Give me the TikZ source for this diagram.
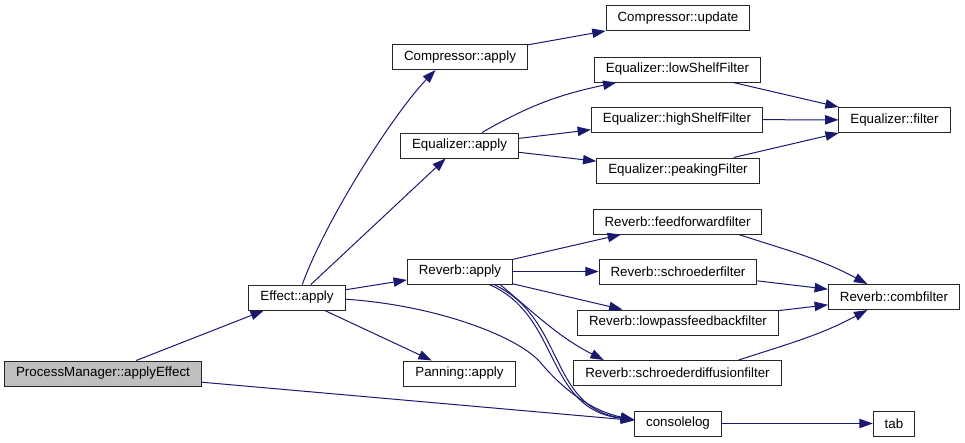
\documentclass[tikz,border=0pt]{standalone}
\usepackage{fontspec}
\setmainfont{Liberation Sans}
\usetikzlibrary{arrows.meta}
\definecolor{edgeblue}{HTML}{191970}
\definecolor{startgray}{HTML}{BFBFBF}

\begin{document}
\begin{tikzpicture}[x=0.75pt,y=0.75pt,
        fn/.style={draw=black!85,line width=0.75pt,fill=white,inner xsep=8.6pt,inner ysep=0pt,
            minimum height=18.75pt,font=\fontsize{10}{12}\selectfont},
        call/.style={draw=edgeblue,line width=0.75pt,-{Triangle[length=10pt,width=7pt]}}]
    \useasboundingbox (0,0) rectangle (965,-443);
    % functions
    \node[fn,fill=startgray] (pm) at (103,-373.5) {ProcessManager::applyEffect};
    \node[fn] (effect) at (297,-297.5) {Effect::apply};
    \node[fn] (compApply) at (460,-57) {Compressor::apply};
    \node[fn] (compUpdate) at (678,-18) {Compressor::update};
    \node[fn] (eqApply) at (459.5,-145.5) {Equalizer::apply};
    \node[fn] (eqLow) at (677.5,-69.5) {Equalizer::lowShelfFilter};
    \node[fn] (eqHigh) at (677,-119.5) {Equalizer::highShelfFilter};
    \node[fn] (eqPeak) at (678,-170.5) {Equalizer::peakingFilter};
    \node[fn] (eqFilter) at (894.5,-120) {Equalizer::filter};
    \node[fn] (revApply) at (460,-271.5) {Reverb::apply};
    \node[fn] (revFF) at (677.5,-221.5) {Reverb::feedforwardfilter};
    \node[fn] (revSchroeder) at (678,-271.5) {Reverb::schroederfilter};
    \node[fn] (revLowpass) at (678,-322.5) {Reverb::lowpassfeedbackfilter};
    \node[fn] (revDiffusion) at (677.5,-373) {Reverb::schroederdiffusionfilter};
    \node[fn] (revComb) at (894,-297) {Reverb::combfilter};
    \node[fn] (panning) at (459.5,-373.5) {Panning::apply};
    \node[fn] (consolelog) at (678,-423.5) {consolelog};
    \node[fn] (tab) at (894,-423.5) {tab};
    % calls
    \draw[call] (pm) -- (effect);
    \draw[call] (pm) -- (consolelog.176);
    \draw[call] (effect.68) .. controls +(70:70) and +(226:60) .. (compApply.208);
    \draw[call] (effect) -- (eqApply);
    \draw[call] (effect) -- (revApply);
    \draw[call] (effect) -- (panning);
    \draw[call] (effect.358) .. controls +(90,-6) and +(-23,26) .. (540,-362)
        .. controls +(25,-30) and +(-40,8) .. (consolelog.175);
    \draw[call] (compApply) -- (compUpdate);
    \draw[call] (eqApply) to[out=30,in=192] (eqLow);
    \draw[call] (eqApply) -- (eqHigh);
    \draw[call] (eqApply) -- (eqPeak);
    \draw[call] (eqLow) -- (eqFilter);
    \draw[call] (eqHigh) -- (eqFilter);
    \draw[call] (eqPeak) -- (eqFilter);
    \draw[call] (revApply) -- (revFF);
    \draw[call] (revApply) -- (revSchroeder);
    \draw[call] (revApply) -- (revLowpass);
    \draw[call] (revApply.342) .. controls +(-40:50) and +(153:50) .. (revDiffusion.170.5);
    \draw[call] (revApply.336) .. controls +(72,-31) and +(-90,10) .. (consolelog.175);
    \draw[call] (revApply.339) .. controls +(72,-34) and +(-86,12) .. (consolelog.175);
    \draw[call] (revFF.-12) to[out=-18,in=152] (revComb.154);
    \draw[call] (revSchroeder) -- (revComb);
    \draw[call] (revLowpass) -- (revComb);
    \draw[call] (revDiffusion.12) to[out=18,in=208] (revComb.206);
    \draw[call] (consolelog) -- (tab);
\end{tikzpicture}
\end{document}
